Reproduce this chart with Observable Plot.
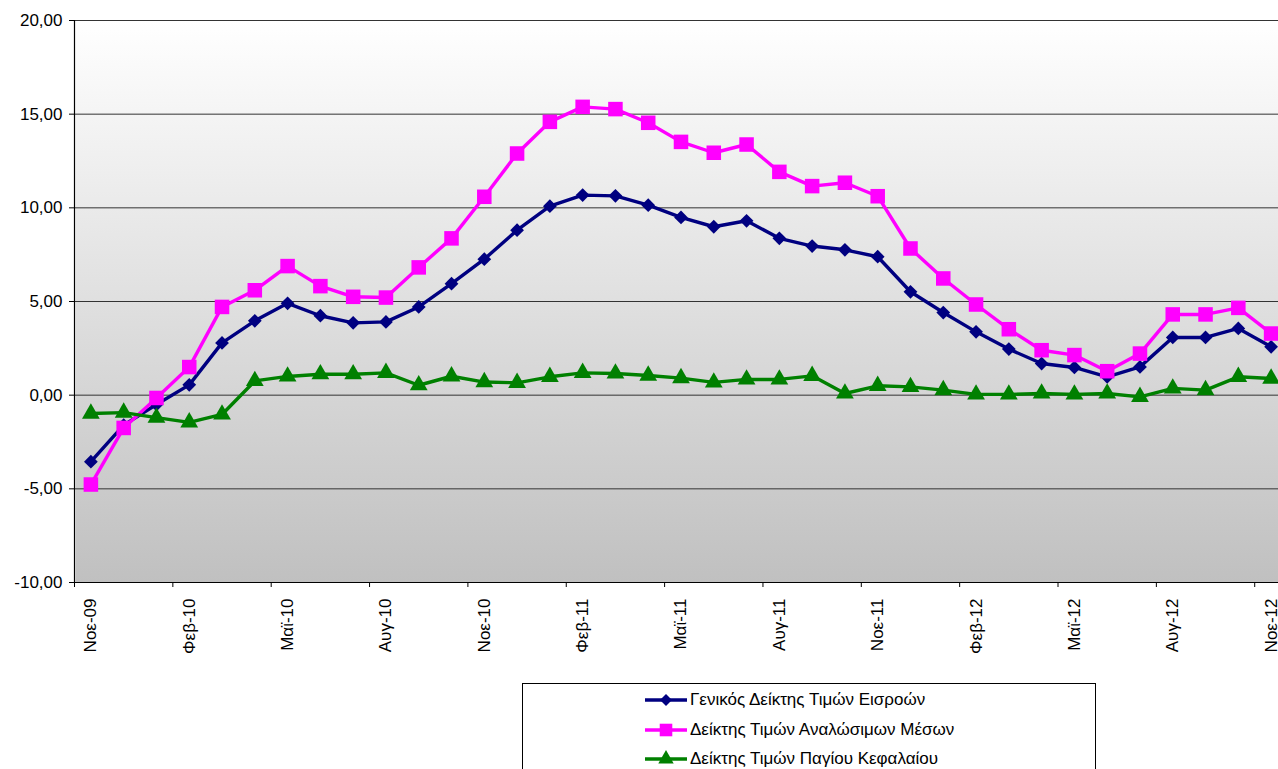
<!DOCTYPE html>
<html>
<head>
<meta charset="utf-8">
<script src="https://cdn.jsdelivr.net/npm/d3@7"></script>
<script src="https://cdn.jsdelivr.net/npm/@observablehq/plot@0.6"></script>
<style>
  body { margin: 0; background: #fff; font-family: "Liberation Sans", Arial, sans-serif; }
  #wrap { position: relative; width: 1278px; height: 769px; overflow: hidden; }
  #legend { position: absolute; left: 522px; top: 683px; width: 574px; height: 100px; border: 1px solid #000; background: #fff; box-sizing: border-box; }
  .item { position: absolute; left: 122px; height: 24px; display: flex; align-items: center; font-size: 17px; color: #000; white-space: nowrap; }
  .item svg { margin-right: 1px; }
</style>
</head>
<body>
<div id="wrap"><div id="chart"></div><div id="legend"></div></div>
<script>
const months = [
  "Νοε-09","Δεκ-09","Ιαν-10","Φεβ-10","Μαρ-10","Απρ-10","Μαϊ-10","Ιουν-10","Ιουλ-10","Αυγ-10","Σεπ-10","Οκτ-10",
  "Νοε-10","Δεκ-10","Ιαν-11","Φεβ-11","Μαρ-11","Απρ-11","Μαϊ-11","Ιουν-11","Ιουλ-11","Αυγ-11","Σεπ-11","Οκτ-11",
  "Νοε-11","Δεκ-11","Ιαν-12","Φεβ-12","Μαρ-12","Απρ-12","Μαϊ-12","Ιουν-12","Ιουλ-12","Αυγ-12","Σεπ-12","Οκτ-12",
  "Νοε-12"
];
const generalIndex = [
  -3.55, -1.6, -0.5, 0.55, 2.79, 3.97, 4.9, 4.24, 3.86, 3.91, 4.71, 5.95,
  7.26, 8.81, 10.09, 10.68, 10.64, 10.14, 9.49, 8.99, 9.31, 8.37, 7.96, 7.76,
  7.39, 5.52, 4.41, 3.38, 2.46, 1.69, 1.48, 0.98, 1.51, 3.08, 3.08, 3.56,
  2.58
];
const consumablesIndex = [
  -4.77, -1.75, -0.15, 1.5, 4.71, 5.6, 6.89, 5.82, 5.25, 5.21, 6.82, 8.37,
  10.59, 12.9, 14.59, 15.39, 15.27, 14.54, 13.52, 12.94, 13.38, 11.92, 11.16, 11.34,
  10.62, 7.83, 6.23, 4.84, 3.52, 2.4, 2.14, 1.28, 2.22, 4.31, 4.31, 4.66,
  3.29
];
const capitalIndex = [
  -0.98, -0.93, -1.2, -1.45, -1.03, 0.76, 1.0, 1.12, 1.12, 1.19, 0.53, 1.01,
  0.7, 0.66, 0.98, 1.19, 1.16, 1.05, 0.91, 0.68, 0.84, 0.84, 1.03, 0.09,
  0.5, 0.44, 0.27, 0.04, 0.04, 0.09, 0.04, 0.09, -0.09, 0.36, 0.27, 0.98,
  0.89
];
const seriesNames = [
  "Γενικός Δείκτης Τιμών Εισροών",
  "Δείκτης Τιμών Αναλώσιμων Μέσων",
  "Δείκτης Τιμών Παγίου Κεφαλαίου"
];
const yTicks = [-10, -5, 0, 5, 10, 15, 20];

const series = [
  {name: seriesNames[0], values: generalIndex, color: "#000080", symbol: "diamond2", r: 6.2},
  {name: seriesNames[1], values: consumablesIndex, color: "#FF00FF", symbol: "square", r: 8.2},
  {name: seriesNames[2], values: capitalIndex, color: "#008000", symbol: "triangle", r: 6.6}
];

const idx = months.map((_, i) => i);
const labelIdx = idx.filter(i => i % 3 === 0);
const boundaries = labelIdx.map(i => i - 0.5);
const fmt = d => d.toFixed(2).replace(".", ",");

const marks = [
  Plot.frame({fill: "url(#bgGrad)", stroke: "none"}),
  Plot.ruleY(yTicks, {stroke: "#333", strokeWidth: 1}),
  Plot.ruleY([-10], {stroke: "#000", strokeWidth: 1.2}),
  Plot.ruleX([-0.5], {stroke: "#000", strokeWidth: 1.2}),
  Plot.axisY({ticks: yTicks, tickSize: 6, tickPadding: 7, tickFormat: fmt, fontSize: 17, anchor: "left", label: null}),
  Plot.axisX({ticks: boundaries, tickSize: 5, tickFormat: () => "", anchor: "bottom", label: null}),
  Plot.text(labelIdx, {x: d => d, y: () => -10, text: d => months[d], rotate: -90, textAnchor: "end", lineAnchor: "middle", dy: 16, fontSize: 17, fill: "#000"})
];
for (const s of series) {
  const rows = s.values.map((v, i) => ({i, v}));
  marks.push(Plot.line(rows, {x: "i", y: "v", stroke: s.color, strokeWidth: 3.4}));
  marks.push(Plot.dot(rows, {x: "i", y: "v", symbol: () => s.symbol, r: s.r, fill: s.color, stroke: "none"}));
}

const chart = Plot.plot({
  width: 1278,
  height: 680,
  marginLeft: 75,
  marginRight: 0,
  marginTop: 20,
  marginBottom: 98,
  style: {fontFamily: "'Liberation Sans', Arial, sans-serif", fontSize: "17px", overflow: "hidden", background: "#fff", color: "#000"},
  x: {type: "linear", domain: [-0.5, 36.5], range: [74, 1287], axis: null},
  y: {domain: [-10, 20], axis: null},
  symbol: {type: "identity"},
  marks
});

d3.select(chart).insert("defs", ":first-child").html(
  '<linearGradient id="bgGrad" x1="0" y1="0" x2="0" y2="1">' +
  '<stop offset="0" stop-color="#ffffff"/><stop offset="1" stop-color="#c0c0c0"/></linearGradient>'
);
document.getElementById("chart").appendChild(chart);

// legend
const legend = d3.select("#legend");
const rowTops = [4, 34, 63];
const symMap = {diamond2: d3.symbolDiamond2, square: d3.symbolSquare, triangle: d3.symbolTriangle};
series.forEach((s, k) => {
  const item = legend.append("div").attr("class", "item").style("top", rowTops[k] + "px");
  const sw = item.append("svg").attr("width", 44).attr("height", 18);
  sw.append("line").attr("x1", 0).attr("x2", 42).attr("y1", 9).attr("y2", 9)
    .attr("stroke", s.color).attr("stroke-width", 3.4);
  sw.append("path").attr("transform", "translate(21,9)")
    .attr("d", d3.symbol(symMap[s.symbol], Math.PI * s.r * s.r * 0.75)())
    .attr("fill", s.color);
  item.append("span").text(s.name);
});
</script>
</body>
</html>
